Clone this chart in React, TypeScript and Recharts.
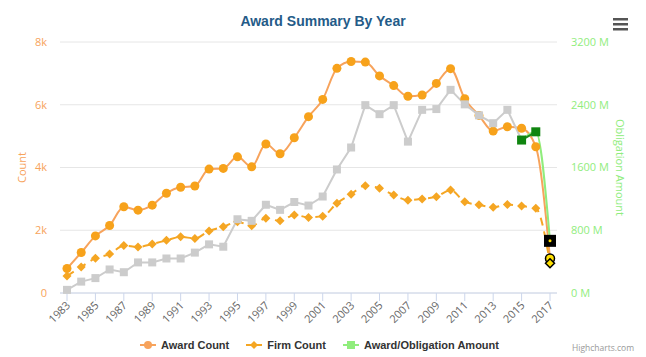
import { LineChart, Line, XAxis, YAxis, CartesianGrid } from "recharts";

const years = [
  1983, 1984, 1985, 1986, 1987, 1988, 1989, 1990, 1991, 1992, 1993, 1994,
  1995, 1996, 1997, 1998, 1999, 2000, 2001, 2002, 2003, 2004, 2005, 2006,
  2007, 2008, 2009, 2010, 2011, 2012, 2013, 2014, 2015, 2016, 2017,
];

const awardCount = [
  780, 1290, 1820, 2150, 2750, 2640, 2800, 3180, 3370, 3410, 3950, 3970, 4340,
  4020, 4750, 4440, 4950, 5620, 6170, 7160, 7380, 7360, 6920, 6610, 6270, 6310,
  6680, 7150, 6190, 5660, 5160, 5300, 5250, 4660, 1100,
];

const firmCount = [
  540, 830, 1110, 1240, 1510, 1470, 1560, 1680, 1790, 1740, 1980, 2110, 2270,
  2140, 2380, 2300, 2490, 2410, 2450, 2860, 3150, 3420, 3340, 3120, 2960, 3000,
  3070, 3280, 2910, 2810, 2730, 2820, 2770, 2700, 950,
];

// millions of dollars
const obligationAmount = [
  40, 145, 190, 300, 265, 390, 390, 440, 440, 515, 620, 590, 940, 920, 1125,
  1060, 1160, 1115, 1230, 1575, 1855, 2395, 2280, 2395, 1930, 2335, 2345, 2590,
  2405, 2265, 2165, 2335, 1950, 2055, 665,
];

const countTicks = [0, 2000, 4000, 6000, 8000];
const amountTicks = [0, 800, 1600, 2400, 3200];

const last = years.length - 1;

const data = years.map((y, i) => ({
  year: String(y),
  award: awardCount[i],
  firm: firmCount[i],
  gray: i <= last - 2 ? obligationAmount[i] : null,
  dark: i >= last - 2 && i <= last - 1 ? obligationAmount[i] : null,
  light: i >= last - 2 ? obligationAmount[i] : null,
}));

const ORANGE = "#f7a35c";
const DOT = "#f7a21b";
const GREEN = "#90ed7d";
const FONT = "'Open Sans', sans-serif";

const empty = (k: string) => <g key={k} />;

const awardDot = (p: any) => {
  const k = "a" + p.index;
  if (p.cy == null) return empty(k);
  if (p.index === last)
    return <circle key={k} cx={p.cx} cy={p.cy} r={4.5} fill="#ffe000" stroke="#000" strokeWidth={1.5} />;
  return <circle key={k} cx={p.cx} cy={p.cy} r={4.5} fill={DOT} />;
};

const firmDot = (p: any) => {
  const k = "f" + p.index;
  if (p.cy == null) return empty(k);
  const s = 4.5;
  const d = `M${p.cx},${p.cy - s}L${p.cx + s},${p.cy}L${p.cx},${p.cy + s}L${p.cx - s},${p.cy}Z`;
  if (p.index === last)
    return <path key={k} d={d} fill="#ffe000" stroke="#000" strokeWidth={1.5} />;
  return <path key={k} d={d} fill="#f5a623" />;
};

const grayDot = (p: any) => {
  const k = "g" + p.index;
  if (p.cy == null || p.index > last - 3) return empty(k);
  return <rect key={k} x={p.cx - 4} y={p.cy - 4} width={8} height={8} fill="#cccccc" />;
};

const darkDot = (p: any) => {
  const k = "d" + p.index;
  if (p.cy == null) return empty(k);
  return <rect key={k} x={p.cx - 4.5} y={p.cy - 4.5} width={9} height={9} fill="#0f850f" />;
};

const lightDot = (p: any) => {
  const k = "l" + p.index;
  if (p.cy == null || p.index !== last) return empty(k);
  return (
    <g key={k}>
      <rect x={p.cx - 6} y={p.cy - 6} width={12} height={12} fill="#000" />
      <circle cx={p.cx} cy={p.cy} r={1.5} fill="#ffe000" />
    </g>
  );
};

const YearTick = (p: any) => (
  <text
    x={p.x + 4}
    y={p.y + 5}
    transform={`rotate(-45, ${p.x + 4}, ${p.y + 5})`}
    textAnchor="end"
    fill="#666"
    fontSize={11}
    fontFamily={FONT}
  >
    {p.payload.value}
  </text>
);

const LegendItem = ({ color, label, shape }: any) => (
  <span style={{ display: "inline-flex", alignItems: "center", marginRight: 17 }}>
    <svg width={16} height={12} style={{ marginRight: 5 }}>
      <line x1={0} y1={6} x2={16} y2={6} stroke={color} strokeWidth={2} />
      {shape === "circle" && <circle cx={8} cy={6} r={4} fill={color} />}
      {shape === "diamond" && <path d="M8,2L12,6L8,10L4,6Z" fill={color} />}
      {shape === "square" && <rect x={4} y={2} width={8} height={8} fill={color} />}
    </svg>
    <span>{label}</span>
  </span>
);

export default function App() {
  return (
    <div style={{ position: "relative", width: 646, height: 357, background: "#fff", fontFamily: FONT }}>
      <style>{`body{margin:0}`}</style>
      <div
        style={{
          position: "absolute",
          top: 13,
          left: 0,
          width: 646,
          textAlign: "center",
          fontFamily: "'Liberation Sans', Arial, sans-serif",
          fontWeight: "bold",
          fontSize: 14,
          color: "#245b88",
        }}
      >
        Award Summary By Year
      </div>
      <svg width={16} height={14} style={{ position: "absolute", left: 613, top: 17 }}>
        <rect x={0} y={1} width={15} height={2.5} fill="#555" />
        <rect x={0} y={6} width={15} height={2.5} fill="#555" />
        <rect x={0} y={11} width={15} height={2.5} fill="#555" />
      </svg>
      <LineChart width={646} height={357} data={data} margin={{ top: 42, right: 0, bottom: 0, left: 0 }}>
        <CartesianGrid vertical={false} stroke="#e6e6e6" yAxisId="left" />
        <XAxis
          dataKey="year"
          interval={1}
          height={64}
          padding={{ left: 7, right: 7 }}
          tickSize={8}
          tickMargin={0}
          stroke="#ccd6eb"
          tick={<YearTick />}
        />
        <YAxis
          yAxisId="left"
          width={60}
          domain={[0, 8000]}
          ticks={countTicks}
          tickFormatter={(v: number) => (v === 0 ? "0" : v / 1000 + "k")}
          axisLine={false}
          tickLine={false}
          tickSize={0}
          tickMargin={13}
          tick={{ fill: ORANGE, fontSize: 11, fontFamily: FONT }}
          label={{ value: "Count", angle: -90, position: "center", dx: -8, fill: ORANGE, fontSize: 11, fontFamily: FONT }}
        />
        <YAxis
          yAxisId="right"
          orientation="right"
          width={89}
          domain={[0, 3200]}
          ticks={amountTicks}
          tickFormatter={(v: number) => v + " M"}
          axisLine={false}
          tickLine={false}
          tickSize={0}
          tickMargin={14}
          tick={{ fill: GREEN, fontSize: 11, fontFamily: FONT, textAnchor: "start" }}
          label={{ value: "Obligation Amount", angle: 90, position: "center", dx: 18, fill: GREEN, fontSize: 11, fontFamily: FONT }}
        />
        <Line yAxisId="left" type="monotone" dataKey="award" stroke={ORANGE} strokeWidth={2} dot={awardDot} activeDot={false} isAnimationActive={false} />
        <Line yAxisId="left" type="monotone" dataKey="firm" stroke="#f5a623" strokeWidth={2} strokeDasharray="8 6" dot={firmDot} activeDot={false} isAnimationActive={false} />
        <Line yAxisId="right" type="linear" dataKey="gray" stroke="#cccccc" strokeWidth={2} dot={grayDot} activeDot={false} isAnimationActive={false} />
        <Line yAxisId="right" type="monotone" dataKey="light" stroke={GREEN} strokeWidth={2} dot={lightDot} activeDot={false} isAnimationActive={false} />
        <Line yAxisId="right" type="linear" dataKey="dark" stroke="#1f8a1f" strokeWidth={2} dot={darkDot} activeDot={false} isAnimationActive={false} />
      </LineChart>
      <div
        style={{
          position: "absolute",
          top: 339,
          left: 140,
          display: "flex",
          fontFamily: "'Liberation Sans', Arial, sans-serif",
          fontSize: 11,
          fontWeight: "bold",
          color: "#333",
          whiteSpace: "nowrap",
        }}
      >
        <LegendItem color={ORANGE} label="Award Count" shape="circle" />
        <LegendItem color="#f5a623" label="Firm Count" shape="diamond" />
        <LegendItem color={GREEN} label="Award/Obligation Amount" shape="square" />
      </div>
      <div style={{ position: "absolute", top: 342, left: 572, fontSize: 8.5, color: "#999" }}>Highcharts.com</div>
    </div>
  );
}
